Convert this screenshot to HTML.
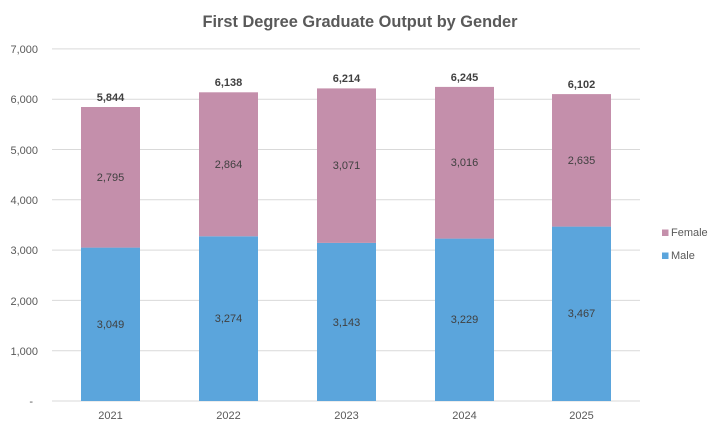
<!DOCTYPE html>
<html><head><meta charset="utf-8"><style>html,body{margin:0;padding:0;background:#fff}svg{display:block}</style></head>
<body>
<svg width="720" height="432" xmlns="http://www.w3.org/2000/svg" font-family="Liberation Sans, sans-serif">
<rect width="720" height="432" fill="#fff"/>
<text x="360" y="27" text-anchor="middle" font-size="17" font-weight="bold" fill="#595959" textLength="315" lengthAdjust="spacingAndGlyphs">First Degree Graduate Output by Gender</text>
<g stroke="#d9d9d9" stroke-width="1">
<line x1="52" x2="640" y1="48.9" y2="48.9"/>
<line x1="52" x2="640" y1="99.2" y2="99.2"/>
<line x1="52" x2="640" y1="149.5" y2="149.5"/>
<line x1="52" x2="640" y1="199.8" y2="199.8"/>
<line x1="52" x2="640" y1="250.1" y2="250.1"/>
<line x1="52" x2="640" y1="300.4" y2="300.4"/>
<line x1="52" x2="640" y1="350.7" y2="350.7"/>
<line x1="52" x2="640" y1="401" y2="401"/>
</g>
<g font-size="11" fill="#595959" text-anchor="end">
<text x="38" y="53">7,000</text>
<text x="38" y="103">6,000</text>
<text x="38" y="154">5,000</text>
<text x="38" y="204">4,000</text>
<text x="38" y="254">3,000</text>
<text x="38" y="305">2,000</text>
<text x="38" y="355">1,000</text>
<text x="33" y="405">-</text>
</g>
<g>
<rect x="81" y="247.6" width="59" height="153.4" fill="#5ba5dc"/>
<rect x="81" y="107.0" width="59" height="140.6" fill="#c48fab"/>
<rect x="199" y="236.3" width="59" height="164.7" fill="#5ba5dc"/>
<rect x="199" y="92.3" width="59" height="144" fill="#c48fab"/>
<rect x="317" y="242.9" width="59" height="158.1" fill="#5ba5dc"/>
<rect x="317" y="88.4" width="59" height="154.5" fill="#c48fab"/>
<rect x="435" y="238.6" width="59" height="162.4" fill="#5ba5dc"/>
<rect x="435" y="86.9" width="59" height="151.7" fill="#c48fab"/>
<rect x="552" y="226.6" width="59" height="174.4" fill="#5ba5dc"/>
<rect x="552" y="94.1" width="59" height="132.5" fill="#c48fab"/>
</g>
<g font-size="11" fill="#404040" text-anchor="middle">
<text x="110.5" y="328">3,049</text><text x="110.5" y="181">2,795</text>
<text x="228.5" y="322">3,274</text><text x="228.5" y="168">2,864</text>
<text x="346.5" y="326">3,143</text><text x="346.5" y="169">3,071</text>
<text x="464.5" y="323">3,229</text><text x="464.5" y="166">3,016</text>
<text x="581.5" y="317">3,467</text><text x="581.5" y="164">2,635</text>
</g>
<g font-size="11" font-weight="bold" fill="#404040" text-anchor="middle">
<text x="110.5" y="101">5,844</text>
<text x="228.5" y="86">6,138</text>
<text x="346.5" y="82">6,214</text>
<text x="464.5" y="81">6,245</text>
<text x="581.5" y="88">6,102</text>
</g>
<g font-size="11" fill="#595959" text-anchor="middle">
<text x="110.5" y="419">2021</text>
<text x="228.5" y="419">2022</text>
<text x="346.5" y="419">2023</text>
<text x="464.5" y="419">2024</text>
<text x="581.5" y="419">2025</text>
</g>
<rect x="662" y="229.5" width="6.5" height="6.5" fill="#c48fab"/>
<rect x="662" y="252.5" width="6.5" height="6.5" fill="#5ba5dc"/>
<g font-size="11" fill="#595959">
<text x="671" y="236">Female</text>
<text x="671" y="259">Male</text>
</g>
</svg>
</body></html>
